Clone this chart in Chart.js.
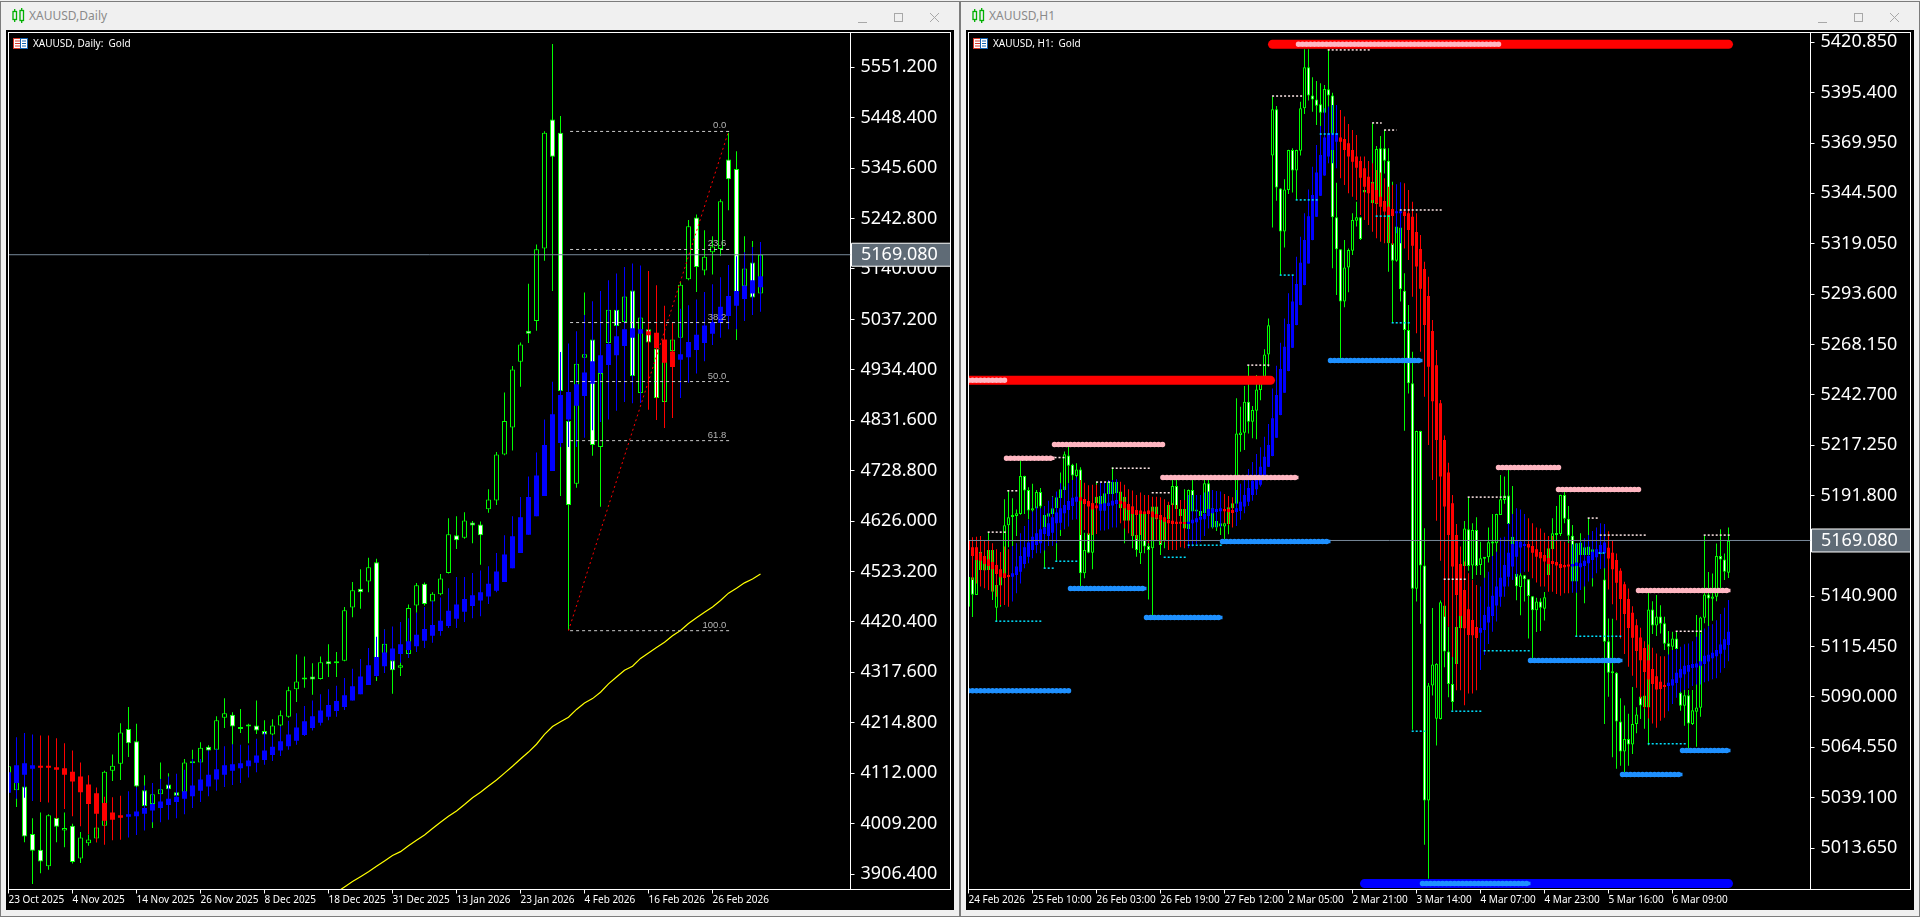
<!DOCTYPE html>
<html>
<head>
<meta charset="utf-8">
<title>XAUUSD</title>
<script src="https://cdn.jsdelivr.net/npm/chart.js@4"></script>
<style>
  html, body { margin: 0; padding: 0; background: #f0f0f0; overflow: hidden; }
  body { width: 1920px; height: 917px; position: relative; font-family: "Noto Sans", sans-serif; }
  .window { position: absolute; top: 1px; width: 958px; height: 914px; border: 1px solid #7c7c7c; background: #f0f0f0; }
  .window canvas { position: absolute; left: 5px; top: 28px; background: #000; }
  .title { position: absolute; left: 28px; top: 6px; font-size: 12px; line-height: 16px; color: #8a8a8a; }
  .legend { position: absolute; left: 32px; top: 34px; font-size: 10px; line-height: 14px; color: #fff; white-space: pre; }
  .icon, .flag, .buttons { position: absolute; }
  .icon { left: 11px; top: 6px; }
  .flag { left: 12px; top: 36px; }
  .buttons { left: 855px; top: 10px; }
</style>
</head>
<body>
<div class="window" style="left:0">
  <svg class="icon" width="13" height="16"><g fill="none" stroke="#00b000" stroke-width="1.3"><rect x="1" y="3.5" width="3.5" height="8"/><rect x="8" y="2.5" width="3.5" height="10"/><path d="M2.7 1V3.5M2.7 11.5V14M9.7 0V2.5M9.7 12.5V15"/></g></svg>
  <div class="title">XAUUSD,Daily</div>
  <canvas id="dailyChart" width="948" height="880"></canvas>
  <svg class="flag" width="15" height="12"><rect x="0" y="0" width="15" height="11" fill="#fff"/><rect x=".5" y=".5" width="7" height="10" fill="none" stroke="#d83a2a"/><rect x="7.5" y=".5" width="7" height="10" fill="none" stroke="#1060b0"/><path d="M2 3H7M2 5.5H7M2 8H7" stroke="#d83a2a"/><path d="M9 3H13M9 5.5H13M9 8H13" stroke="#1060b0"/></svg>
  <div class="legend">XAUUSD, Daily:  Gold</div>
  <svg class="buttons" width="90" height="14"><g fill="none" stroke="#a8a8a8"><path d="M2 10.5H11"/><rect x="38.5" y="1.5" width="8" height="8"/><path d="M74 1L83 10M83 1L74 10"/></g></svg>
</div>
<div class="window" style="left:960px">
  <svg class="icon" width="13" height="16"><g fill="none" stroke="#00b000" stroke-width="1.3"><rect x="1" y="3.5" width="3.5" height="8"/><rect x="8" y="2.5" width="3.5" height="10"/><path d="M2.7 1V3.5M2.7 11.5V14M9.7 0V2.5M9.7 12.5V15"/></g></svg>
  <div class="title">XAUUSD,H1</div>
  <canvas id="hourChart" width="948" height="880"></canvas>
  <svg class="flag" width="15" height="12"><rect x="0" y="0" width="15" height="11" fill="#fff"/><rect x=".5" y=".5" width="7" height="10" fill="none" stroke="#d83a2a"/><rect x="7.5" y=".5" width="7" height="10" fill="none" stroke="#1060b0"/><path d="M2 3H7M2 5.5H7M2 8H7" stroke="#d83a2a"/><path d="M9 3H13M9 5.5H13M9 8H13" stroke="#1060b0"/></svg>
  <div class="legend">XAUUSD, H1:  Gold</div>
  <svg class="buttons" width="90" height="14"><g fill="none" stroke="#a8a8a8"><path d="M2 10.5H11"/><rect x="38.5" y="1.5" width="8" height="8"/><path d="M74 1L83 10M83 1L74 10"/></g></svg>
</div>

<script>
const currentPrice = 5169.08;

// Daily chart
const dailyDates = ['23 Oct 2025','4 Nov 2025','14 Nov 2025','26 Nov 2025','8 Dec 2025','18 Dec 2025','31 Dec 2025','13 Jan 2026','23 Jan 2026','4 Feb 2026','16 Feb 2026','26 Feb 2026'];
const dailyPriceTicks = [5551.2,5448.4,5345.6,5242.8,5140,5037.2,4934.4,4831.6,4728.8,4626,4523.2,4420.4,4317.6,4214.8,4112,4009.2,3906.4];

const dailyHigh = [4130,4111,4087,4020,4032,4028,4046,4032,4009,3992,
  3987,4009,4117,4150,4214,4247,4213,4108,4070,4134,
  4112,4073,4141,4160,4175,4169,4228,4265,4236,4243,
  4213,4260,4220,4222,4240,4288,4354,4350,4336,4350,
  4375,4359,4451,4502,4528,4551,4549,4405,4366,4342,
  4456,4500,4501,4481,4518,4632,4636,4644,4626,4625,
  4691,4767,4888,4942,4990,5110,5190,5421,5599,5452,
  4830,4947,5092,4996,4928,5057,5057,5084,5096,5042,
  5018,4978,4995,4997,5114,5240,5251,5219,5207,5282,
  5418,5380,5207,5197,5169];
const dailyLow = [4070,4043,3971,3886,3908,3915,3971,3961,3928,3929,
  3964,3971,4004,4096,4098,4145,4083,4044,4000,4066,
  4077,4065,4072,4111,4132,4155,4158,4204,4168,4194,
  4173,4192,4189,4189,4207,4225,4257,4286,4272,4303,
  4308,4308,4340,4430,4447,4481,4300,4316,4274,4310,
  4354,4439,4454,4460,4475,4519,4569,4590,4581,4537,
  4643,4659,4760,4770,4900,4989,5014,5157,5095,4677,
  4404,4694,4947,4759,4655,4988,5022,5030,4920,4886,
  4988,4876,4868,4972,4998,5117,5093,5127,5129,5167,
  5260,4995,5097,5081,5089];
const dailyOpen = [4073,4077,4085,3988,3956,3922,4021,3995,4005,3938,
  3969,3979,4005,4117,4131,4202,4177,4077,4049,4069,
  4089,4073,4073,4132,4134,4166,4160,4225,4231,4203,
  4207,4209,4198,4191,4209,4227,4283,4303,4309,4304,
  4340,4336,4341,4450,4488,4503,4542,4342,4342,4327,
  4355,4454,4498,4462,4477,4520,4597,4592,4623,4619,
  4650,4668,4762,4817,4951,5014,5034,5182,5445,5418,
  4830,4702,4959,4996,4777,4989,5057,5032,5096,4887,
  5017,4978,4869,4973,5000,5119,5245,5137,5174,5181,
  5363,5344,5105,5153,5090];
const dailyClose = [4126,4104,3983,3954,3932,4026,4003,4000,3931,3981,
  3977,4001,4115,4127,4195,4173,4085,4045,4069,4079,
  4079,4066,4134,4133,4164,4158,4220,4234,4207,4202,
  4209,4199,4191,4209,4230,4281,4299,4304,4303,4338,
  4334,4337,4444,4485,4481,4532,4310,4376,4322,4332,
  4449,4495,4457,4478,4509,4599,4587,4627,4617,4597,
  4670,4762,4830,4935,4986,5008,5180,5418,5369,4891,
  4659,4947,4966,4781,4928,5057,5024,5084,4922,5041,
  4990,4877,4995,4996,5108,5227,5144,5165,5186,5278,
  5323,5093,5141,5082,5169];

const dailyHaHigh = [4124,4185,4194,4191,4189,4189,4183,4173,4158,4134,
  4108,4083,4064,4063,4066,4075,4083,4087,4092,4100,
  4105,4111,4119,4141,4141,4158,4162,4167,4171,4170,
  4169,4182,4196,4189,4207,4219,4234,4249,4260,4273,
  4283,4290,4306,4325,4345,4367,4390,4405,4411,4420,
  4428,4439,4451,4463,4470,4489,4512,4512,4520,4525,
  4534,4561,4597,4636,4675,4717,4766,4833,4910,4971,
  4988,5013,5046,5074,5095,5117,5131,5144,5151,5147,
  5136,5107,5065,5032,5059,5066,5078,5093,5109,5123,
  5148,5166,5174,5185,5195];
const dailyHaLow = [4070,4060,4062,4055,4053,4052,4019,4039,4024,4004,
  3988,3971,3966,3975,3976,3981,3986,3995,4012,4012,
  4017,4020,4028,4041,4053,4065,4076,4084,4088,4092,
  4103,4114,4129,4137,4147,4160,4170,4188,4199,4209,
  4220,4227,4241,4260,4273,4292,4308,4316,4324,4337,
  4347,4359,4367,4378,4392,4408,4408,4420,4428,4432,
  4457,4481,4502,4530,4561,4598,4636,4677,4728,4777,
  4777,4777,4796,4811,4828,4833,4851,4869,4866,4867,
  4853,4832,4816,4836,4877,4908,4927,4952,4985,5000,
  5017,5017,5034,5046,5053];
const dailyHaOpen = [4072,4092,4109,4121,4124,4124,4124,4122,4115,4105,
  4089,4071,4051,4032,4026,4023,4024,4029,4036,4041,
  4047,4053,4060,4065,4076,4085,4099,4109,4117,4122,
  4126,4133,4139,4149,4158,4167,4178,4190,4204,4215,
  4227,4239,4247,4260,4273,4292,4310,4330,4342,4355,
  4363,4371,4382,4392,4402,4412,4427,4441,4453,4464,
  4472,4484,4502,4530,4561,4598,4636,4677,4728,4785,
  4833,4861,4881,4906,4928,4944,4964,4983,5000,5008,
  5013,5010,4996,4972,4955,4960,4975,4989,5008,5030,
  5044,5065,5079,5090,5103];
const dailyHaClose = [4114,4128,4132,4128,4123,4123,4119,4109,4095,4073,
  4049,4029,4015,4017,4021,4028,4034,4041,4049,4054,
  4060,4064,4075,4087,4099,4109,4120,4128,4130,4132,
  4138,4148,4158,4166,4177,4191,4205,4218,4228,4240,
  4251,4259,4271,4289,4309,4332,4349,4358,4366,4375,
  4381,4394,4406,4414,4423,4443,4456,4467,4475,4481,
  4498,4523,4558,4595,4634,4675,4719,4781,4844,4883,
  4889,4905,4929,4952,4964,4987,5003,5017,5019,5017,
  5005,4979,4949,4940,4966,4991,5006,5025,5032,5063,
  5085,5095,5106,5117,5125];

// yellow moving average, first value belongs to bar 41
const dailyMaFirstBar = 41;
const dailyMa = [3869,3880,3891,3901,3911,3922,3933,3944,3952,
  3964,3975,3986,3999,4012,4024,4035,4048,4062,4073,
  4086,4098,4112,4126,4141,4155,4171,4191,4207,4217,
  4226,4242,4255,4264,4277,4294,4308,4322,4330,4346,
  4357,4368,4379,4392,4403,4417,4429,4440,4451,4464,
  4479,4489,4500,4508,4518];

// fibonacci drawing
const fibLabels = ['0.0','23.6','38.2','50.0','61.8','100.0'];
const fibPrices = [5420.5,5179.8,5030.8,4910.5,4790,4402.5];
const fibStartBar = 70.2;
const fibEndBar = 90.1;

// H1 chart
const hourDates = ['24 Feb 2026','25 Feb 10:00','26 Feb 03:00','26 Feb 19:00','27 Feb 12:00','2 Mar 05:00','2 Mar 21:00','3 Mar 14:00','4 Mar 07:00','4 Mar 23:00','5 Mar 16:00','6 Mar 09:00'];
const hourPriceTicks = [5420.85,5395.4,5369.95,5344.5,5319.05,5293.6,5268.15,5242.7,5217.25,5191.8,5166.35,5140.9,5115.45,5090,5064.55,5039.1,5013.65];

const hourHigh = [5150.8,5150.8,5159.2,5163.4,5161,5173,5164.4,5146.7,5155.9,5189.9,
  5194.3,5190.4,5184.8,5209.5,5201.8,5196,5197.7,5194.6,5195.6,5182,
  5183.7,5191.6,5191.2,5203.4,5214,5216.5,5207.8,5208.1,5206.1,5173,
  5173,5188.7,5198.8,5191.7,5193,5199.7,5206.1,5199,5194,5191.3,
  5187,5186.3,5172,5183.7,5183.2,5172.7,5187,5187,5180.3,5180.8,
  5187.5,5199.7,5199.7,5185.4,5195,5194.8,5200,5184.2,5184.2,5199.7,
  5199.7,5185.5,5179.1,5179.5,5178.6,5186.2,5188,5240.9,5236.7,5247.1,
  5257.7,5237,5252.7,5251.8,5265.7,5281.3,5393.4,5388.7,5347.1,5351.6,
  5366.5,5367.3,5366.5,5390.8,5417.3,5417.3,5403.2,5401.3,5400.1,5399.3,
  5417.3,5395.4,5349.9,5316.3,5320.9,5316.7,5334.4,5340.3,5332.7,5347,
  5348,5379.9,5368.4,5373.5,5376.5,5367.3,5350.4,5327.8,5327.7,5304.1,
  5288.1,5264.5,5224.5,5224.5,5175.3,5097,5134.9,5107,5138.7,5143.8,
  5125.3,5110.4,5125.4,5131.5,5178.9,5190.9,5177.8,5180.8,5168.5,5160.7,
  5175.7,5182.5,5182.6,5202.2,5201.4,5205.1,5196.6,5161.1,5160.9,5151.7,
  5149.6,5141,5140.2,5139.9,5143.1,5166.7,5180.3,5186.5,5192.2,5193.8,
  5186.5,5176.9,5167.8,5172.7,5165.7,5180.3,5164.7,5164.4,5163.1,5162.5,
  5129.7,5129.5,5102.5,5089.4,5085.7,5081.5,5095,5084.8,5095,5093.3,
  5144,5138.4,5141.5,5136.4,5130.5,5123.3,5122.9,5123.3,5109.1,5093.5,
  5093.5,5093.5,5131.4,5130.5,5171.8,5153.1,5152.4,5167.6,5174.8,5162.5,
  5175.7];
const hourLow = [5126.4,5130.4,5141.5,5154,5153.8,5153.9,5139,5128.1,5135.6,5149.1,
  5165.6,5166.3,5171.4,5182.1,5182.5,5179.8,5179.4,5184.8,5175.2,5155,
  5180.8,5182,5158.9,5171.4,5194.3,5198,5199.7,5199.7,5145.8,5150,
  5162.6,5154.5,5187.5,5183.8,5183.8,5192.3,5192.1,5192.6,5185,5167.7,
  5178.8,5165.1,5160.9,5157.2,5162.6,5139.3,5130.6,5179.4,5161.8,5165.1,
  5179.4,5186.7,5184.8,5181,5174.9,5174.7,5183.3,5183.5,5181.1,5182.5,
  5181.5,5175.2,5173.9,5171.9,5169.7,5172.2,5185.2,5187.4,5213.9,5214.8,
  5223.2,5220.7,5220.3,5240,5251.5,5256.9,5327.2,5340.8,5303.2,5317.1,
  5344.2,5344.9,5341.2,5363.6,5384.6,5391.4,5385.8,5379.1,5374.9,5385,
  5388.3,5306.6,5293.1,5260.3,5286.9,5294.5,5313.3,5327.7,5320.9,5344.5,
  5345,5339.1,5332.7,5339.1,5354.6,5304.9,5279.1,5310,5289.8,5224.6,
  5243.4,5073.4,5138.3,5127,5015.3,4998.1,5090.8,5065.5,5078.6,5105,
  5089.9,5083.1,5106.5,5123.9,5144.1,5153.8,5149.5,5151.7,5151.7,5150,
  5157.9,5155.9,5161.8,5181.9,5187.6,5171,5161.7,5138.9,5131.3,5138.2,
  5119.5,5109.4,5122.8,5123.3,5128.7,5151.5,5164.3,5167.7,5171.4,5177.8,
  5167.7,5147.4,5120.8,5161.4,5137.3,5161.4,5145.8,5162.1,5162.1,5076.3,
  5090.1,5059.5,5053.7,5055.3,5052,5055.3,5061.2,5071.7,5078.9,5073.9,
  5065.6,5121.8,5120.8,5122.1,5113.7,5110.6,5111.1,5108.4,5083,5075.4,
  5063.8,5075.8,5064.8,5080,5127.2,5125.8,5128.5,5138.4,5144.8,5149.1,
  5150.1];
const hourOpen = [5135.6,5150.5,5141.5,5154.2,5153.9,5154.2,5143.2,5135.1,5146.3,5150.8,
  5176.8,5181,5181.5,5182.5,5201.7,5194.6,5184.2,5185.2,5193.6,5175.7,
  5181.1,5182.5,5185.4,5190.6,5194.6,5212,5207.3,5201.7,5205,5152.5,
  5172.7,5162.9,5187.9,5184.2,5184.2,5192.6,5192.6,5192.9,5185.4,5179,
  5179,5186.2,5171.9,5162.6,5182.8,5166.3,5165.1,5179.8,5179.8,5169.3,
  5179.8,5187,5196.6,5181.5,5175.2,5174.9,5194.6,5183.7,5181.5,5182.8,
  5198,5175.6,5175.6,5177.8,5176.1,5177.4,5185.4,5187.6,5222.4,5223.5,
  5239.2,5229.1,5234.7,5245.1,5251.8,5263.1,5363.6,5387,5347,5325.2,
  5346.2,5366.4,5356,5366.1,5387.5,5408.2,5393.9,5392,5389.5,5385.3,
  5397.1,5393.9,5332.4,5316.2,5289.8,5307.1,5315.5,5330.7,5332.4,5344.9,
  5345.4,5339.5,5339.1,5367.3,5367.3,5361,5319.3,5310.5,5327.3,5295.3,
  5275.4,5248.5,5144.7,5224.4,5156.5,5037.7,5095.8,5079,5078.9,5136.2,
  5113,5096.6,5106.7,5124.7,5156.2,5174.7,5156.4,5174.4,5156.7,5159.9,
  5160.6,5167.5,5167.7,5182,5189.6,5191.8,5161.8,5152.3,5145.6,5151.5,
  5149.5,5140.9,5133.8,5138.3,5134.6,5151.6,5164.8,5171.9,5172.4,5192.1,
  5180.1,5171.5,5148.3,5161.8,5161.8,5161.8,5161.8,5162.3,5162.3,5149.4,
  5118.2,5102,5102.2,5077.6,5062.4,5068.8,5066,5076.4,5090.2,5084.8,
  5084.7,5134.2,5126.1,5130.7,5127.2,5117.1,5115.4,5119.6,5092.1,5085.5,
  5090.9,5076.3,5082.5,5084.5,5130,5141.8,5139.6,5140.6,5161.2,5159.5,
  5152.8];
const hourClose = [5150.8,5141.7,5159.2,5163.4,5160.9,5164.3,5164.3,5146.6,5150.8,5176.8,
  5180.8,5182,5182.8,5201.7,5194.3,5184.2,5185.4,5193.6,5186.2,5182,
  5182.8,5185.4,5190.9,5195,5212.7,5206.8,5201.9,5205,5152.5,5164.3,
  5162.9,5187.9,5191.2,5191.6,5192.9,5198.8,5198.8,5198.8,5193.8,5191.2,
  5186.2,5171.4,5164.3,5182.8,5166,5164.3,5186.2,5186.2,5166.8,5179.4,
  5187,5196.6,5185,5185,5185,5194.6,5183.7,5184,5184,5198,
  5185,5185.4,5178.9,5176.1,5177.8,5185.9,5187.9,5223.2,5223.7,5239.2,
  5229.1,5235,5245.4,5251,5263.1,5277.8,5387,5347.5,5325.2,5346.5,
  5366.4,5356,5366.4,5387.5,5408.2,5393.9,5392,5388.8,5385.3,5397.3,
  5393.9,5332.4,5316.2,5289.8,5307.1,5315.9,5331,5332.4,5321.4,5346.2,
  5347.9,5350.4,5366.9,5339.5,5361,5319.3,5310.5,5327.7,5296,5275.4,
  5248.5,5144.7,5224.4,5156.5,5037.7,5095.8,5106.4,5106.8,5137.9,5113,
  5096.6,5087.4,5125.3,5131.4,5175.2,5156.2,5174.4,5156.2,5160.1,5160.6,
  5168.2,5168.5,5182.5,5189.9,5191.8,5177.4,5171,5145.9,5151.5,5149.5,
  5141,5133.8,5138.3,5135.1,5140.4,5165.1,5172.7,5172.7,5192.1,5180.1,
  5171.5,5148.3,5167.7,5168,5165.6,5166,5164.6,5164.3,5163,5117.9,
  5102.2,5102.5,5077.6,5062.4,5068.8,5066,5076.4,5081.1,5085.7,5090.7,
  5134.2,5126.1,5130.7,5127,5116.9,5115.4,5119.6,5114.2,5085.5,5090.9,
  5076.6,5083.3,5084.7,5130.2,5141.8,5139.8,5140.8,5161.2,5159.5,5153.3,
  5168.9];

const hourHaHigh = [5175.2,5170.7,5171,5171.4,5169,5169.3,5167.7,5164.6,5163.3,5166,
  5164.6,5166.3,5167.7,5172.7,5176.4,5179.5,5183.7,5186.2,5185.4,5186.5,
  5189.2,5191.2,5193.8,5198,5196.3,5198,5199.7,5201,5199.7,5198.3,
  5197,5197.2,5197.2,5198.3,5198.3,5199.7,5199.7,5200,5198.8,5197.2,
  5195,5194.3,5192.1,5193.3,5192.1,5192.1,5191.2,5191.2,5190.9,5189.9,
  5188.7,5187.9,5187,5189.6,5189.6,5192.1,5192.1,5192.1,5192.1,5193.3,
  5193.8,5194.6,5194.1,5193.8,5192.6,5191.6,5190.9,5194.6,5197.7,5200,
  5205.2,5208.8,5212.8,5216.2,5221.5,5227.9,5245.9,5257.4,5269,5281.3,
  5294,5303.2,5312.5,5322.6,5334.4,5346.5,5358,5368.9,5378.6,5387.5,
  5388.3,5389.2,5389.2,5386.6,5383.3,5379.6,5376.5,5374,5363.1,5363.1,
  5360.9,5359.7,5356.3,5355.1,5352.1,5347.9,5348.7,5349.1,5350.1,5349.6,
  5346.2,5340.3,5334.4,5323.5,5310,5302.4,5280.5,5265.3,5240.1,5222.1,
  5208.4,5192.1,5177.4,5166,5158.4,5152.5,5149.1,5146.6,5145.8,5150.3,
  5153.3,5161.3,5163.4,5170.5,5171,5177.8,5182.5,5185.4,5184.8,5182.5,
  5180.3,5177.8,5175.7,5175.2,5173,5171.4,5171.4,5169.3,5169,5168.5,
  5167.7,5167.2,5167.7,5168.5,5170.2,5171.9,5173.9,5175.6,5177.8,5177.4,
  5173.8,5169,5162.5,5155,5148.2,5144.8,5135.9,5129.3,5125,5118.2,
  5116.5,5114.9,5112,5110.6,5110.6,5111.5,5113.7,5114.2,5115.4,5116.7,
  5117,5118.2,5120.4,5122.1,5124.6,5125.8,5126.8,5128.8,5131.9,5135.1,
  5139];
const hourHaLow = [5159.2,5149.1,5147.4,5145.8,5144.9,5144.1,5143.2,5140.7,5136.5,5136.5,
  5135.6,5138.2,5142.4,5147.4,5155,5157.6,5160.1,5162.6,5162.6,5164,
  5166.3,5166.3,5167.7,5174.4,5174.7,5176.1,5179.5,5179.8,5171.9,5174.4,
  5171.9,5171.9,5172.4,5174.1,5174.1,5174.7,5175.7,5175.7,5177.8,5175.2,
  5172.7,5171.4,5169.7,5171.9,5169.3,5167.7,5169.3,5169,5167.7,5168.5,
  5164.3,5164.3,5164.3,5165.6,5165.1,5165.1,5166,5167.3,5168.5,5171.4,
  5175.2,5175.7,5175.7,5175.7,5177.8,5176.9,5175.7,5176.4,5179.5,5182.8,
  5186.5,5189.1,5192.1,5196.3,5202,5206.2,5211.7,5220.9,5232.4,5243.7,
  5254.6,5266.4,5277.9,5288,5298.1,5309,5320.8,5332.6,5343.2,5353.4,
  5359.7,5359.7,5357.2,5352.1,5348.7,5344.5,5342.8,5341.2,5333.6,5331,
  5328.5,5325.1,5321.8,5320.1,5319.3,5319.3,5318.4,5324.3,5319.3,5316.7,
  5310.8,5292.3,5273.8,5264.5,5241.7,5217.3,5199.6,5179,5158.9,5130.6,
  5125.5,5110.2,5093.4,5093.4,5085.8,5091.7,5091.7,5093.4,5103.6,5111.2,
  5116.8,5123,5128.1,5135.6,5140.7,5145.8,5149.1,5150.8,5152.5,5153.3,
  5153.3,5150,5147.8,5145.8,5145.8,5143.2,5143.2,5142,5141.2,5142.4,
  5142.4,5142.7,5142.7,5144.1,5145.8,5148.3,5150,5152.5,5154.7,5155,
  5144.3,5136.9,5128.8,5119.6,5111.7,5105.3,5100.7,5094.6,5089.2,5084.2,
  5079.1,5076.6,5074.4,5078,5079.5,5082.8,5086.4,5089.6,5092.6,5093.5,
  5094.3,5095.6,5096.3,5096.3,5097.5,5098,5099,5099.4,5102.2,5104.7,
  5108.1];
const hourHaOpen = [5169.3,5165.6,5165.6,5162.9,5161.3,5159.6,5158.2,5156.7,5154.5,5152.5,
  5151.7,5150.8,5151.7,5153.3,5157.2,5160.9,5164.3,5166.8,5167.7,5172.4,
  5171.4,5173,5177.8,5178.1,5182.8,5184.5,5186.5,5188.6,5190.9,5190.1,
  5189,5187.9,5186.7,5184.2,5184.2,5186.5,5186.7,5187.5,5189.2,5188.6,
  5187.5,5186.2,5184.5,5184.2,5183.7,5184.2,5183.7,5182.5,5182,5180.8,
  5179.5,5179,5178.6,5177.9,5177.8,5177.4,5177.8,5178.3,5179.5,5179.8,
  5181.5,5182.8,5183.5,5183.8,5185,5185,5184.5,5183.5,5184,5186.2,
  5188.7,5192.1,5195,5197.2,5202.1,5206.3,5211.8,5221,5232.5,5243.8,
  5254.7,5266.5,5278,5288.1,5298.2,5309.1,5320.9,5332.7,5343.3,5353.5,
  5363.1,5366.4,5370.6,5372.7,5372,5369.8,5366.4,5363.1,5360.9,5357.2,
  5352.9,5349.6,5346.2,5342.8,5340.6,5337.8,5336.6,5334.4,5334.4,5335.4,
  5334.4,5332.7,5325,5316.4,5306.3,5292.6,5274.9,5257.7,5238.4,5219.9,
  5203.4,5187.9,5171.9,5157.2,5144.1,5134.3,5128.9,5125.4,5122.5,5123.9,
  5127.6,5130.9,5136.2,5140.7,5145.8,5150.8,5155.9,5160.9,5165.5,5166.3,
  5167.3,5166.3,5164.6,5163.3,5161.8,5160.2,5158.7,5158.2,5157.2,5156.7,
  5156.2,5155.9,5156.2,5155.5,5156.2,5157.6,5159.2,5160.6,5162.6,5162.6,
  5165.4,5162.9,5159.2,5153.8,5147,5139.5,5132.5,5126.3,5120.1,5114.7,
  5108.6,5104.1,5100.5,5097.7,5096,5095.5,5095.8,5097,5099.7,5101.5,
  5102.7,5104.7,5104.9,5105.8,5106.6,5107.9,5109.6,5110.6,5111.8,5113.8,
  5116.2];
const hourHaClose = [5164.3,5161.3,5159.2,5158.9,5157.2,5156.2,5154.5,5152.2,5150.5,5150.1,
  5150.6,5152.5,5155.9,5161.3,5165.6,5168,5171,5172.7,5174.7,5175.7,
  5177.8,5180.8,5183.2,5185.4,5187,5189,5190.7,5191.2,5189.2,5187.5,
  5186.2,5184.8,5185.4,5187.5,5187.9,5188.2,5189.2,5189.6,5187.5,5185.4,
  5184.5,5182.5,5182,5182.5,5182.5,5182.5,5180.8,5180.3,5179.5,5178.6,
  5177.8,5177.4,5177.4,5177.6,5177.4,5178.6,5179.5,5180.3,5181.1,5182.5,
  5185,5185.2,5185,5185.4,5183.8,5183.5,5183,5185.4,5188.6,5192.1,
  5195.6,5199.3,5202.2,5206.4,5211.4,5217.3,5230.8,5242.6,5255.7,5267,
  5278.5,5289.8,5298.7,5309.5,5320.9,5333,5343.7,5355,5363.9,5372.7,
  5374.9,5374.9,5374.9,5370.6,5366.4,5363.1,5360.5,5357.5,5352.4,5347.9,
  5344.5,5341.2,5339.5,5337.8,5335.3,5333.6,5333.1,5335.1,5335.1,5333.1,
  5326,5318,5307.5,5296.3,5278,5256.9,5239.5,5219.8,5201.4,5186.2,
  5171.9,5155.9,5141.5,5130.9,5124.7,5121.3,5121.2,5119.8,5124.9,5131.4,
  5135.6,5141.2,5145.8,5150.3,5156.7,5162.9,5167.3,5169.3,5168.5,5167.3,
  5165.5,5162.9,5160.9,5160.1,5158.4,5157.2,5157.2,5156.4,5155.2,5155.5,
  5155.9,5157.2,5157.9,5157.6,5158.9,5161.3,5163.4,5164.6,5166.8,5168,
  5160,5154.6,5147.7,5139.5,5131.9,5124.8,5119.9,5113.2,5108.6,5102.6,
  5098.8,5096.5,5093.8,5094,5095,5097.2,5099,5102.2,5104.1,5105.8,
  5106.1,5106.6,5106.9,5108.1,5110.8,5111.3,5112.3,5113.7,5116.5,5119.2,
  5122.9];

// support and resistance levels: [first bar, last bar, price]
const majorResistance = [[0,75.5,5250],[76,190,5419.8]];
const majorSupport = [[99,190,4995.7]];
const pinkLevels = [[0,9.5,5250],[9.5,21.5,5210.6],[21.5,48.6,5217.6],[48.6,82.5,5200.9],[82.5,132.7,5419.8],
  [132.5,147.7,5206],[147.5,167.7,5194.9],[167.5,190.5,5143.8]];
const blueLevels = [[0,25.5,5093.2],[25.5,44.5,5144.8],[44.5,63.5,5130.2],[63.5,90.5,5168.6],[90.5,113.5,5260.1],
  [113.5,140.5,4995.7],[140.5,163.5,5108.4],[163.5,178.5,5050.8],[178.5,190.5,5062.9]];
const whiteLevels = [[4.8,9.5,5173.3],[9.7,12.4,5194.2],[21.5,24,5211],[31.9,35.4,5198.6],[35.8,45.4,5205.6],[45.8,50.4,5193.2],
  [69.7,75.4,5257.7],[75.9,83.5,5393.7],[89.8,100.4,5417],[100.9,103.3,5380.1],[103.9,107,5376.5],[107.8,118.4,5336.1],
  [118.8,124.4,5149.5],[124.8,134.4,5191],[154.8,157.4,5180.4],[157.8,169.4,5171.8],[176.8,183.4,5123.2],[183.8,190.4,5171.8]];
const cyanLevels = [[6.7,18.4,5128.3],[18.8,21.4,5155.1],[21.7,27.6,5158.6],[48.8,54.4,5160.6],[54.8,63.4,5166.7],
  [77.8,81.3,5303.2],[81.8,87.4,5341.2],[87.8,92.4,5374.5],[101.8,105.3,5333],[105.8,110.3,5279.1],[110.8,114.2,5072.7],
  [120.7,128.4,5082.8],[128.8,140.4,5113.3],[151.7,163.4,5120.7],[157.5,159,5162.7],[169.8,179.6,5066.3]];

const GREEN = '#00ff00';
const RED = '#ff0000';
const BLUE = '#0000ff';

function candleDatasets(open, high, low, close, haOpen, haHigh, haLow, haClose, bodyWidth, haWidth) {
  const bar = { type: 'bar', grouped: false, borderSkipped: false, inflateAmount: 0 };
  const haColors = haClose.map((c, i) => (c < haOpen[i] ? RED : BLUE));
  return [
    { ...bar, order: 60, barThickness: 1, backgroundColor: GREEN,
      data: high.map((h, i) => ({ x: i, y: [low[i], h] })) },
    { ...bar, order: 50, barThickness: bodyWidth, minBarLength: 2, borderWidth: 1, borderColor: GREEN,
      backgroundColor: close.map((c, i) => (c < open[i] ? '#ffffff' : '#000000')),
      data: open.map((o, i) => ({ x: i, y: [o, close[i]] })) },
    { ...bar, order: 40, barThickness: 1, backgroundColor: haColors,
      data: haHigh.map((h, i) => ({ x: i, y: [haLow[i], h] })) },
    { ...bar, order: 30, barThickness: haWidth, minBarLength: 2, backgroundColor: haColors,
      data: haOpen.map((o, i) => ({ x: i, y: [o, haClose[i]] })) }
  ];
}

function levelDatasets(levels, style) {
  return levels.map(([from, to, price]) => ({
    type: 'line', pointRadius: 0, ...style,
    data: [{ x: from, y: price }, { x: to, y: price }]
  }));
}

// white frame, fibonacci texts and the current price box
function chartDecor(fibTexts) {
  return {
    id: 'decor',
    afterDraw(chart) {
      const { ctx, scales } = chart;
      const y = scales.y.getPixelForValue(currentPrice);
      ctx.save();
      ctx.strokeStyle = '#ffffff';
      ctx.lineWidth = 1;
      ctx.strokeRect(2.5, 2.5, 942, 857);
      ctx.fillStyle = '#5f6b76';
      ctx.fillRect(846, y - 11.5, 98, 23);
      ctx.beginPath();
      ctx.moveTo(845.5, y - 11.5);
      ctx.lineTo(944, y - 11.5);
      ctx.moveTo(845.5, y + 11.5);
      ctx.lineTo(944, y + 11.5);
      ctx.moveTo(845.5, y - 11.5);
      ctx.lineTo(845.5, y + 11.5);
      ctx.stroke();
      ctx.fillStyle = '#ffffff';
      ctx.font = '18px "Noto Sans"';
      ctx.textBaseline = 'middle';
      ctx.fillText(currentPrice.toFixed(3), 855, y);
      if (fibTexts) {
        ctx.fillStyle = '#b4b4b4';
        ctx.font = '9.5px "Liberation Sans"';
        ctx.textAlign = 'right';
        ctx.textBaseline = 'alphabetic';
        fibLabels.forEach((label, i) => {
          ctx.fillText(label, scales.x.getPixelForValue(fibEndBar) - 3, scales.y.getPixelForValue(fibPrices[i]) - 3);
        });
      }
      ctx.restore();
    }
  };
}

function drawChart(canvasId, datasets, opts) {
  return new Chart(document.getElementById(canvasId), {
    type: 'bar',
    data: { datasets },
    plugins: [chartDecor(opts.fibTexts)],
    options: {
      responsive: false,
      animation: false,
      devicePixelRatio: 1,
      events: [],
      layout: { padding: { left: 2.5, top: 2.5, right: 0, bottom: 0 } },
      plugins: { legend: { display: false }, tooltip: { enabled: false } },
      scales: {
        x: {
          type: 'linear',
          min: 0,
          max: opts.lastBar,
          offset: false,
          grid: { drawOnChartArea: false, offset: false, tickLength: 4, tickColor: '#ffffff' },
          border: { color: '#ffffff' },
          afterBuildTicks: (axis) => { axis.ticks = opts.dates.map((d, i) => ({ value: i * opts.tickStep })); },
          afterFit: (axis) => { axis.height = 20.5; axis.paddingLeft = 0; axis.paddingRight = 0; },
          ticks: {
            autoSkip: false,
            maxRotation: 0,
            align: 'start',
            padding: 1,
            color: '#ffffff',
            font: { family: 'Noto Sans', size: 10 },
            callback: (value) => opts.dates[Math.round(value / opts.tickStep)]
          }
        },
        y: {
          type: 'linear',
          position: 'right',
          beginAtZero: false,
          min: opts.minPrice,
          max: opts.maxPrice,
          grid: { drawOnChartArea: false, tickLength: 4, tickColor: '#ffffff' },
          border: { color: '#ffffff' },
          afterBuildTicks: (axis) => { axis.ticks = opts.priceTicks.map((v) => ({ value: v })); },
          afterFit: (axis) => { axis.width = 103.5; axis.paddingTop = 0; axis.paddingBottom = 0; },
          ticks: {
            autoSkip: false,
            padding: 6,
            color: '#ffffff',
            font: { family: 'Noto Sans', size: 18 },
            callback: (value) => value.toFixed(3)
          }
        }
      }
    }
  });
}

const priceLine = (lastBar) => ({
  type: 'line', order: 12, pointRadius: 0, borderWidth: 1, borderColor: '#778899',
  data: [{ x: 0, y: currentPrice }, { x: lastBar, y: currentPrice }]
});

// Daily
const dailyLastBar = 105.25;
drawChart('dailyChart', [
  ...candleDatasets(dailyOpen, dailyHigh, dailyLow, dailyClose, dailyHaOpen, dailyHaHigh, dailyHaLow, dailyHaClose, 5, 5),
  { type: 'line', order: 20, pointRadius: 0, borderWidth: 1.2, borderColor: '#ffff00',
    data: dailyMa.map((v, i) => ({ x: dailyMaFirstBar + i, y: v })) },
  ...levelDatasets(fibPrices.map((p) => [fibStartBar, fibEndBar, p]),
    { order: 15, borderWidth: 1, borderColor: '#cccccc', borderDash: [3, 3] }),
  { type: 'line', order: 14, pointRadius: 0, borderWidth: 1, borderColor: RED, borderDash: [2, 3],
    data: [{ x: 70, y: fibPrices[5] }, { x: 90, y: fibPrices[0] }] },
  priceLine(dailyLastBar)
], {
  lastBar: dailyLastBar, tickStep: 8, dates: dailyDates, priceTicks: dailyPriceTicks,
  minPrice: 3874.8, maxPrice: 5622.2, fibTexts: true
});

// H1, the indicator levels are chains of round dots, one per bar
const dotChain = { borderWidth: 5.5, borderCapStyle: 'round', borderDash: [0.01, 3.99] };
const hourLastBar = 210.5;
drawChart('hourChart', [
  ...candleDatasets(hourOpen, hourHigh, hourLow, hourClose, hourHaOpen, hourHaHigh, hourHaLow, hourHaClose, 3, 3),
  priceLine(hourLastBar),
  ...levelDatasets(whiteLevels, { order: 8, borderWidth: 1.5, borderColor: '#ffe8e8', borderDash: [2, 2] }),
  ...levelDatasets(cyanLevels, { order: 8, borderWidth: 1.5, borderColor: '#00e0ff', borderDash: [2, 2] }),
  ...levelDatasets(majorResistance, { order: 6, borderWidth: 9, borderColor: RED, borderCapStyle: 'round' }),
  ...levelDatasets(majorSupport, { order: 6, borderWidth: 9, borderColor: BLUE, borderCapStyle: 'round' }),
  ...levelDatasets(pinkLevels, { order: 4, borderWidth: 3.5, borderColor: '#ffb6c1' }),
  ...levelDatasets(pinkLevels, { order: 3, borderColor: '#ffb6c1', ...dotChain }),
  ...levelDatasets(blueLevels, { order: 4, borderWidth: 3.5, borderColor: '#1e90ff' }),
  ...levelDatasets(blueLevels, { order: 3, borderColor: '#1e90ff', ...dotChain })
], {
  lastBar: hourLastBar, tickStep: 16, dates: hourDates, priceTicks: hourPriceTicks,
  minPrice: 4992.7, maxPrice: 5425.8, fibTexts: false
});
</script>
</body>
</html>
